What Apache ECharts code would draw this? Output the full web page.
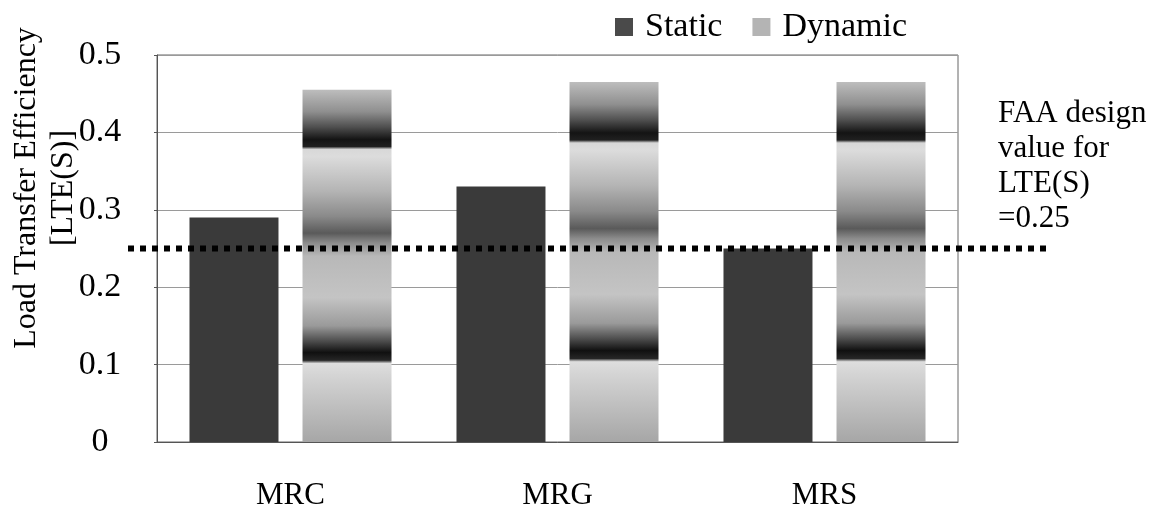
<!DOCTYPE html>
<html>
<head>
<meta charset="utf-8">
<script src="https://cdn.jsdelivr.net/npm/echarts@6/dist/echarts.min.js"></script>
<style>
  html, body { margin: 0; padding: 0; background: #fff; }
  #chart { width: 1167px; height: 517px; }
</style>
</head>
<body>
<div id="chart"></div>
<script>
// Joint load transfer efficiency by section
const categories = ['MRC', 'MRG', 'MRS'];
const staticLTE = [0.29, 0.33, 0.25];
const dynamicLTE = [0.455, 0.465, 0.465];
const yTicks = [0, 0.1, 0.2, 0.3, 0.4, 0.5];
const faaDesignLTE = 0.25;

const SERIF = "'Liberation Serif', 'Times New Roman', serif";

// Banded grey fill for the dynamic bars (dark bands near the top and bottom)
const dynamicFill = new echarts.graphic.LinearGradient(0, 0, 0, 1, [
  { offset: 0.000, color: '#bdbdbd' },
  { offset: 0.062, color: '#8f8f8f' },
  { offset: 0.105, color: '#505050' },
  { offset: 0.141, color: '#141414' },
  { offset: 0.161, color: '#202020' },
  { offset: 0.169, color: '#d8d8d8' },
  { offset: 0.189, color: '#dcdcdc' },
  { offset: 0.288, color: '#b4b4b4' },
  { offset: 0.359, color: '#8a8a8a' },
  { offset: 0.407, color: '#5a5a5a' },
  { offset: 0.435, color: '#8c8c8c' },
  { offset: 0.472, color: '#b8b8b8' },
  { offset: 0.590, color: '#c4c4c4' },
  { offset: 0.670, color: '#9a9a9a' },
  { offset: 0.715, color: '#4a4a4a' },
  { offset: 0.746, color: '#101010' },
  { offset: 0.768, color: '#262626' },
  { offset: 0.777, color: '#dedede' },
  { offset: 0.811, color: '#d4d4d4' },
  { offset: 0.910, color: '#bcbcbc' },
  { offset: 1.000, color: '#a6a6a6' }
]);

const chart = echarts.init(document.getElementById('chart'), null, { renderer: 'canvas' });

chart.setOption({
  backgroundColor: '#ffffff',
  animation: false,
  legend: {
    left: 615,
    top: 10,
    padding: 0,
    itemWidth: 18,
    itemHeight: 18,
    itemGap: 30,
    icon: 'rect',
    textStyle: { fontFamily: SERIF, fontSize: 34, color: '#000', padding: [0, 0, 0, 7] },
    data: [
      { name: 'Static', itemStyle: { color: '#4a4a4a' } },
      { name: 'Dynamic', itemStyle: { color: '#b4b4b4' } }
    ]
  },
  grid: [
    { left: 157, right: 209, top: 55, bottom: 75, show: true, borderColor: '#666', borderWidth: 1 },
    // wider band for the design-value reference line
    { left: 128, right: 115, top: 55, bottom: 75 }
  ],
  xAxis: [
    {
      type: 'category',
      gridIndex: 0,
      data: categories,
      axisLine: { show: true, lineStyle: { color: '#555', width: 1 } },
      axisTick: { show: false },
      axisLabel: { fontFamily: SERIF, fontSize: 31, color: '#000', margin: 38 }
    },
    { type: 'value', gridIndex: 1, min: 0, max: 1, show: false }
  ],
  yAxis: [
    {
      type: 'value',
      gridIndex: 0,
      min: yTicks[0],
      max: yTicks[yTicks.length - 1],
      interval: 0.1,
      axisLine: { show: true, lineStyle: { color: '#555', width: 1 } },
      axisTick: { show: true, length: 3, lineStyle: { color: '#555' } },
      splitLine: { show: true, lineStyle: { color: '#9a9a9a', width: 1 } },
      axisLabel: {
        fontFamily: SERIF, fontSize: 34, color: '#000',
        align: 'center', margin: 57,
        formatter: v => (v === 0 ? '0' : v.toFixed(1))
      }
    },
    { type: 'value', gridIndex: 1, min: 0, max: 0.5, show: false }
  ],
  series: [
    {
      name: 'Static',
      type: 'bar',
      xAxisIndex: 0, yAxisIndex: 0,
      data: staticLTE,
      barWidth: 89,
      barGap: '27%',
      itemStyle: { color: '#3a3a3a' },
      z: 2
    },
    {
      name: 'Dynamic',
      type: 'bar',
      xAxisIndex: 0, yAxisIndex: 0,
      data: dynamicLTE,
      barWidth: 89,
      barGap: '27%',
      itemStyle: { color: dynamicFill },
      z: 2
    },
    {
      name: 'FAA design value',
      type: 'line',
      xAxisIndex: 1, yAxisIndex: 1,
      data: [[0, faaDesignLTE], [1, faaDesignLTE]],
      symbol: 'none',
      lineStyle: { color: '#000', width: 6, type: [6, 6], cap: 'butt' },
      z: 5
    }
  ],
  graphic: [
    {
      type: 'text',
      x: 45,
      y: 188,
      rotation: Math.PI / 2,
      style: {
        text: 'Load Transfer Efficiency\n[LTE(S)]',
        font: '32px ' + SERIF,
        fill: '#000',
        textAlign: 'center',
        textVerticalAlign: 'middle',
        lineHeight: 37
      }
    },
    {
      type: 'text',
      left: 998,
      top: 96,
      style: {
        text: 'FAA design\nvalue for\nLTE(S)\n=0.25',
        font: '31px ' + SERIF,
        fill: '#000',
        lineHeight: 35
      }
    }
  ]
});
</script>
</body>
</html>
